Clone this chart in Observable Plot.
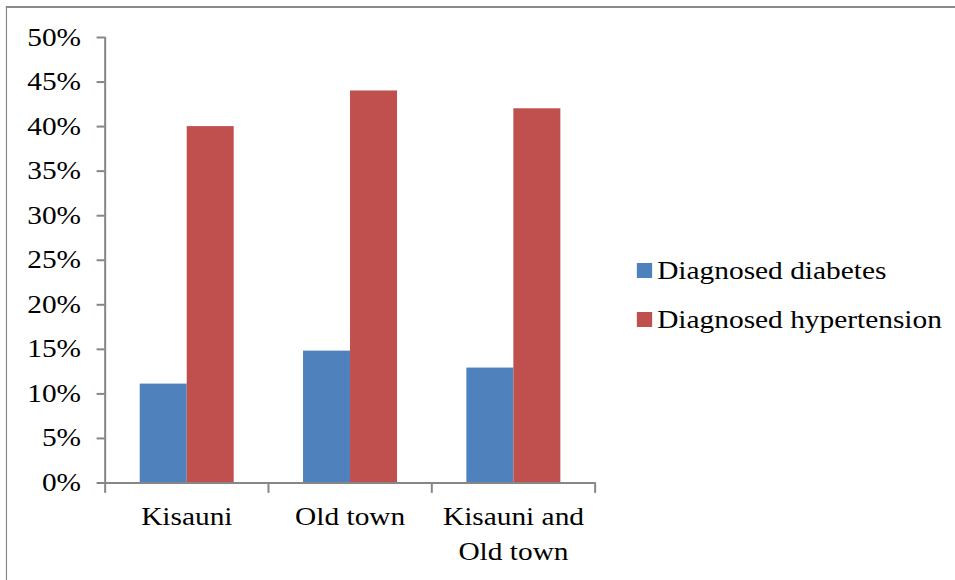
<!DOCTYPE html>
<html>
<head>
<meta charset="utf-8">
<script src="https://cdn.jsdelivr.net/npm/d3@7"></script>
<script src="https://cdn.jsdelivr.net/npm/@observablehq/plot@0.6"></script>
<style>
  html, body { margin: 0; padding: 0; background: #fff; }
  body { width: 955px; height: 580px; overflow: hidden; position: relative; }
  #stage {
    position: absolute; left: 0; top: 0; width: 813px; height: 580px;
    transform: scale(1.175, 1); transform-origin: 0 0;
    font-family: "Liberation Serif", "Times New Roman", serif;
  }
  #border {
    position: absolute; left: 5.1px; top: 6px; width: 900px; height: 700px;
    border-left: 1.7px solid #8a8a8a; border-top: 2px solid #8a8a8a;
  }
  #chart { position: absolute; left: 0; top: 0; }
  #legend {
    position: absolute; left: 542.4px; top: 246.4px;
    font-size: 25px; line-height: 49px; color: #000; white-space: nowrap;
  }
  .sw { display: inline-block; width: 12.3px; height: 15px; margin-right: 4.6px; vertical-align: 1px; }
</style>
</head>
<body>
<div id="stage">
  <div id="border"></div>
  <div id="chart"></div>
  <div id="legend"></div>
</div>
<script>
const categories = ["Kisauni", "Old town", "Kisauni and Old town"];
const categoryLabels = ["Kisauni", "Old town", "Kisauni and\nOld town"];
const seriesNames = ["Diagnosed diabetes", "Diagnosed hypertension"];
const diabetes = [11.1, 14.8, 12.9];
const hypertension = [40, 44, 42];
const yTicks = [0, 5, 10, 15, 20, 25, 30, 35, 40, 45, 50];
const seriesColors = ["#4F81BD", "#C0504D"];

const data = categories.flatMap((c, i) => [
  {category: c, series: seriesNames[0], value: diabetes[i]},
  {category: c, series: seriesNames[1], value: hypertension[i]}
]);

const FONT = '"Liberation Serif", "Times New Roman", serif';
const W = 530, H = 580, mL = 88.1, mR = W - 506, mT = 37, mB = 97.5;
const plotH = H - mT - mB;
const axisColor = "#868686";

const chart = Plot.plot({
  width: W, height: H,
  marginLeft: mL, marginRight: mR, marginTop: mT, marginBottom: mB,
  style: {fontFamily: FONT, fontSize: "25px", background: "transparent", color: "black", overflow: "visible"},
  fx: {domain: categories, padding: 0, label: null},
  x: {domain: seriesNames, paddingInner: 0, paddingOuter: 0.73, axis: null},
  y: {domain: [0, 50], label: null},
  color: {domain: seriesNames, range: seriesColors},
  marks: [
    Plot.barY(data, {fx: "category", x: "series", y: "value", fill: "series"}),
    Plot.ruleY([0], {stroke: axisColor, strokeWidth: 2}),
    Plot.frame({anchor: "left", facetAnchor: "left", stroke: axisColor, strokeWidth: 1.7}),
    Plot.frame({anchor: "left", insetTop: plotH, insetBottom: -9, stroke: axisColor, strokeWidth: 1.7}),
    Plot.frame({anchor: "right", facetAnchor: "right", insetTop: plotH, insetBottom: -9, stroke: axisColor, strokeWidth: 1.7}),
    Plot.axisY({ticks: yTicks, tickFormat: d => d + "%", tickSize: 6.8, tickPadding: 13.7,
      stroke: axisColor, strokeWidth: 2, fill: "black", fontSize: 25, label: null}),
    Plot.axisFx({anchor: "bottom", tickSize: 0, tickPadding: 18, tickFormat: d => categoryLabels[categories.indexOf(d)],
      lineHeight: 1.38, fontSize: 25, fill: "black", label: null})
  ]
});
document.getElementById("chart").appendChild(chart);

const legend = document.getElementById("legend");
seriesNames.forEach((s, i) => {
  const row = document.createElement("div");
  const sw = document.createElement("span");
  sw.className = "sw";
  sw.style.background = seriesColors[i];
  row.appendChild(sw);
  row.appendChild(document.createTextNode(s));
  legend.appendChild(row);
});
</script>
</body>
</html>
